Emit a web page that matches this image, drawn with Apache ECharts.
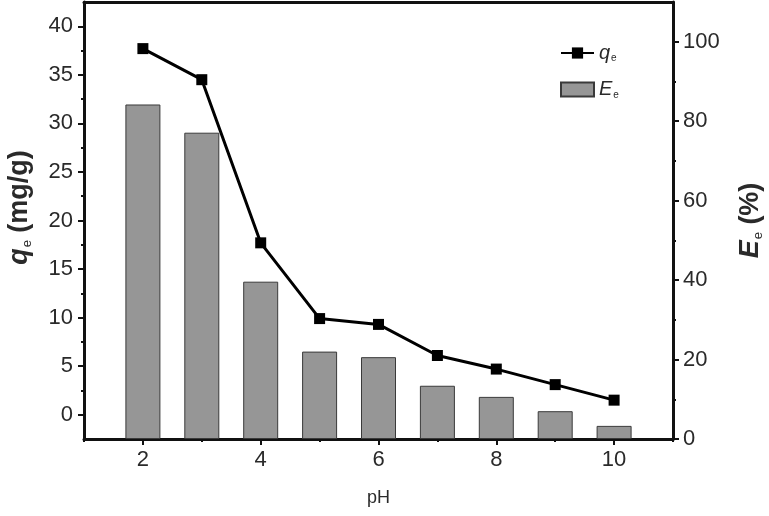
<!DOCTYPE html>
<html>
<head>
<meta charset="utf-8">
<script src="https://cdn.jsdelivr.net/npm/echarts@6/dist/echarts.min.js"></script>
<style>
  html, body { margin: 0; padding: 0; background: #fff; }
  #chart { width: 769px; height: 516px; }
</style>
</head>
<body>
<div id="chart"></div>
<script>
// pH values and measured data
const phList = [2, 3, 4, 5, 6, 7, 8, 9, 10]
const qeList = [37.7, 34.5, 17.7, 9.9, 9.3, 6.1, 4.7, 3.1, 1.5]
const eeList = [84.2, 77.1, 39.6, 22.0, 20.6, 13.4, 10.6, 7.0, 3.3]

// tick positions
const xMajorTicks = [2, 4, 6, 8, 10]
const xMinorTicks = [1, 3, 5, 7, 9, 11]
const qMajorTicks = [0, 5, 10, 15, 20, 25, 30, 35, 40]
const qMinorTicks = [2.5, 7.5, 12.5, 17.5, 22.5, 27.5, 32.5, 37.5]
const eMajorTicks = [0, 20, 40, 60, 80, 100]
const eMinorTicks = [10, 30, 50, 70, 90]

const textColor = '#2a2a2a'
const fontFamily = 'Liberation Sans, Arial, sans-serif'
const axisLine = { show: true, onZero: false, lineStyle: { color: '#111', width: 3 } }

const chart = echarts.init(document.getElementById('chart'))

const nameRich = {
  i: { fontStyle: 'italic', fontWeight: 'bold', fontSize: 27, color: textColor, fontFamily: fontFamily },
  s: { fontSize: 13, color: textColor, fontFamily: fontFamily, padding: [15, 0, 0, 1] },
  t: { fontWeight: 'bold', fontSize: 27, color: textColor, fontFamily: fontFamily }
}

const option = {
  animation: false,
  backgroundColor: '#fff',
  grid: { left: 84, right: 96, top: 2, bottom: 77, outerBoundsMode: 'none' },
  legend: {
    orient: 'vertical',
    left: 555,
    top: 38,
    itemWidth: 33,
    itemHeight: 14,
    itemGap: 16,
    data: [{ name: 'qe' }, { name: 'Ee', icon: 'rect' }],
    formatter: function(name) {
      return name === 'qe' ? '{i|q}{s|e}' : '{i|E}{s|e}'
    },
    textStyle: {
      rich: {
        i: { fontStyle: 'italic', fontSize: 20, color: textColor, fontFamily: fontFamily },
        s: { fontSize: 10, color: textColor, fontFamily: fontFamily, padding: [11, 0, 0, 1] }
      }
    }
  },
  xAxis: [
    {
      type: 'value',
      min: 1,
      max: 11,
      name: 'pH',
      nameLocation: 'middle',
      nameGap: 50,
      nameTextStyle: { fontSize: 18, color: textColor, fontFamily: fontFamily },
      axisLine: axisLine,
      axisTick: { show: true, length: 6, lineStyle: { width: 2, color: '#111' }, customValues: xMajorTicks },
      axisLabel: { fontSize: 22, color: textColor, fontFamily: fontFamily, margin: 10, customValues: xMajorTicks },
      splitLine: { show: false }
    },
    {
      type: 'value',
      min: 1,
      max: 11,
      position: 'bottom',
      axisLine: { show: false, onZero: false },
      axisTick: { show: true, length: 3, lineStyle: { width: 2, color: '#111' }, customValues: xMinorTicks },
      axisLabel: { show: false },
      splitLine: { show: false }
    },
    {
      type: 'value',
      min: 1,
      max: 11,
      position: 'top',
      axisLine: axisLine,
      axisTick: { show: false },
      axisLabel: { show: false },
      splitLine: { show: false }
    }
  ],
  yAxis: [
    {
      type: 'value',
      min: -2.5,
      max: 42.5,
      position: 'left',
      name: '{i|q}{s|e}{t| (mg/g)}',
      nameLocation: 'middle',
      nameGap: 50,
      nameTextStyle: { rich: nameRich, padding: [0, 0, 0, 26] },
      axisLine: axisLine,
      axisTick: { show: true, length: 6, lineStyle: { width: 2, color: '#111' }, customValues: qMajorTicks },
      axisLabel: { fontSize: 22, color: textColor, fontFamily: fontFamily, margin: 11, customValues: qMajorTicks },
      splitLine: { show: false }
    },
    {
      type: 'value',
      min: 0,
      max: 110,
      position: 'right',
      name: '{i|E}{s|e}{t| (%)}',
      nameLocation: 'middle',
      nameGap: 64,
      nameRotate: 90,
      nameTextStyle: { rich: nameRich },
      axisLine: axisLine,
      axisTick: { show: true, length: 6, lineStyle: { width: 2, color: '#111' }, customValues: eMajorTicks },
      axisLabel: { fontSize: 22, color: textColor, fontFamily: fontFamily, margin: 10, customValues: eMajorTicks },
      splitLine: { show: false }
    },
    {
      type: 'value',
      min: -2.5,
      max: 42.5,
      position: 'left',
      axisLine: { show: false, onZero: false },
      axisTick: { show: true, length: 3, lineStyle: { width: 2, color: '#111' }, customValues: qMinorTicks },
      axisLabel: { show: false },
      splitLine: { show: false }
    },
    {
      type: 'value',
      min: 0,
      max: 110,
      position: 'right',
      axisLine: { show: false, onZero: false },
      axisTick: { show: true, length: 3, lineStyle: { width: 2, color: '#111' }, customValues: eMinorTicks },
      axisLabel: { show: false },
      splitLine: { show: false }
    }
  ],
  series: [
    {
      name: 'Ee',
      type: 'bar',
      xAxisIndex: 0,
      yAxisIndex: 1,
      barWidth: 35,
      itemStyle: { color: '#969696', borderColor: '#3a3a3a', borderWidth: 1 },
      data: phList.map((x, i) => [x, eeList[i]]),
      z: 2
    },
    {
      name: 'qe',
      type: 'line',
      xAxisIndex: 0,
      yAxisIndex: 0,
      symbol: 'rect',
      symbolSize: 11,
      itemStyle: { color: '#000' },
      lineStyle: { color: '#000', width: 3 },
      data: phList.map((x, i) => [x, qeList[i]]),
      z: 5
    }
  ]
}

chart.setOption(option)
</script>
</body>
</html>
